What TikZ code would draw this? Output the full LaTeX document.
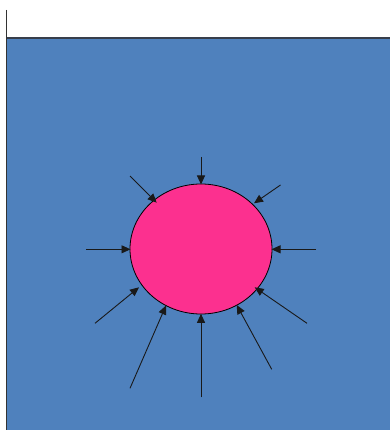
\documentclass[tikz,border=0pt]{standalone}
\usetikzlibrary{arrows.meta,shapes.geometric}
\definecolor{bgblue}{RGB}{79,129,189}
\definecolor{ballpink}{RGB}{252,48,143}
\definecolor{edgegray}{RGB}{55,62,75}
\begin{document}
\begin{tikzpicture}[x=1pt,y=-1pt,
  force/.style={draw=black!90,line width=0.9pt,-{Triangle[length=9pt,width=8pt]}},
  ball/.style={ellipse,draw=black,line width=0.8pt,fill=ballpink,minimum width=142pt,minimum height=130pt,inner sep=0pt}]
\useasboundingbox (0,0) rectangle (390,430);
\fill[white] (0,0) rectangle (390,430);
\fill[bgblue] (7,38) rectangle (390,430);
\draw[edgegray,line width=1.2pt] (7,38) -- (390,38);
\draw[black!80,line width=1.2pt] (6.5,10) -- (6.5,430);
\node[ball] (e) at (201,249) {};
% start points
\coordinate (s1) at (201,157);
\coordinate (s2) at (130,176);
\coordinate (s3) at (280.5,185);
\coordinate (s4) at (86,249.3);
\coordinate (s5) at (316,249.3);
\coordinate (s6) at (95,323.3);
\coordinate (s7) at (307,323.3);
\coordinate (s8) at (130,388.3);
\coordinate (s9) at (201,397.3);
\coordinate (s10) at (271.7,369.3);
% end points on the ball
\coordinate (t1) at (201,184.5);
\coordinate (t2) at (156.7,202.7);
\coordinate (t3) at (254,203.3);
\coordinate (t4) at (130.5,249.3);
\coordinate (t5) at (271.5,249.3);
\coordinate (t6) at (139,287.3);
\coordinate (t7) at (254.7,287.3);
\coordinate (t8) at (166,305.5);
\coordinate (t9) at (201,313.8);
\coordinate (t10) at (236.7,305);
\foreach \i in {1,...,10} {\draw[force] (s\i) -- (t\i);}
\end{tikzpicture}
\end{document}
